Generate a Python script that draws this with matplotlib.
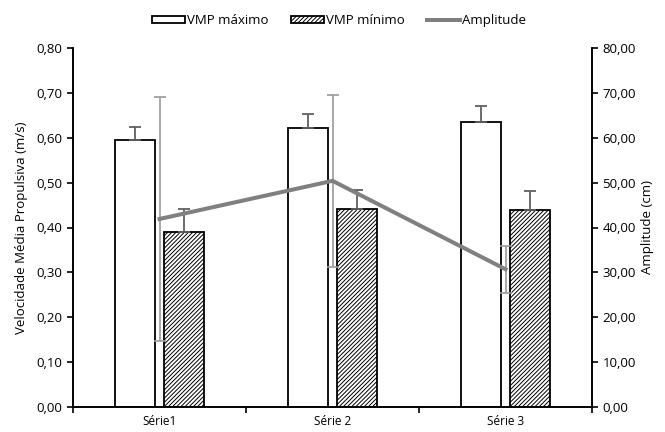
import matplotlib.pyplot as plt
import numpy as np
from matplotlib.ticker import FuncFormatter, FixedLocator

plt.rcParams['font.family'] = ['Open Sans', 'DejaVu Sans']
plt.rcParams['hatch.linewidth'] = 0.7

# data
categorias = ["Série1", "Série 2", "Série 3"]
vmp_max = [0.596, 0.622, 0.634]
vmp_max_err = [0.029, 0.031, 0.037]
vmp_min = [0.389, 0.441, 0.439]
vmp_min_err = [0.052, 0.043, 0.043]
amplitude = [41.9, 50.4, 30.7]
amplitude_err = [27.2, 19.2, 5.2]

x = np.arange(len(categorias))
w = 0.23
off = 0.14

fig = plt.figure(figsize=(6.65, 4.32), dpi=100)
ax = fig.add_axes([73/665, 25/432, (592-73)/665, (407-48)/432])
ax2 = ax.twinx()

b1 = ax.bar(x - off, vmp_max, w, color="white", edgecolor="black", linewidth=1.3,
            label="VMP máximo", zorder=2)
ax.errorbar(x - off, vmp_max, yerr=[[0]*3, vmp_max_err], fmt="none",
            ecolor="#606060", elinewidth=1.3, capsize=4, capthick=1.3, zorder=3)
b2 = ax.bar(x + off, vmp_min, w, color="white", edgecolor="black", linewidth=1.3,
            hatch="////////", label="VMP mínimo", zorder=2)
ax.errorbar(x + off, vmp_min, yerr=[[0]*3, vmp_min_err], fmt="none",
            ecolor="#606060", elinewidth=1.3, capsize=4, capthick=1.3, zorder=3)

ax2.errorbar(x, amplitude, yerr=amplitude_err, fmt="none", ecolor="#9a9a9a",
             elinewidth=1.2, capsize=4, capthick=1.2, zorder=3)
l1, = ax2.plot(x, amplitude, color="#808080", linewidth=2.9, label="Amplitude", zorder=4)

ax.set_xlim(-0.5, 2.5)
ax.set_ylim(0, 0.8)
ax2.set_ylim(0, 80)
ax.set_yticks(np.arange(0, 0.81, 0.1))
ax2.set_yticks(np.arange(0, 81, 10))
ax.yaxis.set_major_formatter(FuncFormatter(lambda v, p: f"{v:.2f}".replace(".", ",")))
ax2.yaxis.set_major_formatter(FuncFormatter(lambda v, p: f"{v:.2f}".replace(".", ",")))

ax.xaxis.set_major_locator(FixedLocator([-0.5, 0.5, 1.5, 2.5]))
ax.xaxis.set_major_formatter(FuncFormatter(lambda v, p: ""))
ax.xaxis.set_minor_locator(FixedLocator(x))
ax.set_xticklabels(categorias, minor=True)
ax.tick_params(axis="x", which="minor", length=0, pad=6, labelsize=8.5)
ax.tick_params(axis="x", which="major", length=4, width=1.2)
ax.tick_params(axis="y", length=4, width=1.2, labelsize=9.5)
ax2.tick_params(axis="y", length=4, width=1.2, labelsize=9.5)

for a in (ax, ax2):
    a.spines["top"].set_visible(False)
    for s in ("left", "right", "bottom"):
        a.spines[s].set_linewidth(1.2)

ax.set_ylabel("Velocidade Média Propulsiva (m/s)", fontsize=9.5, labelpad=6)
ax2.set_ylabel("Amplitude (cm)", fontsize=9.5, labelpad=4)

fig.legend(handles=[b1, b2, l1], loc="upper center", bbox_to_anchor=(0.51, 0.995),
           ncol=3, frameon=False, fontsize=9.5, handlelength=2.5, handleheight=0.45,
           columnspacing=1.7, handletextpad=0.15)

fig.savefig("out.png", dpi=100)
